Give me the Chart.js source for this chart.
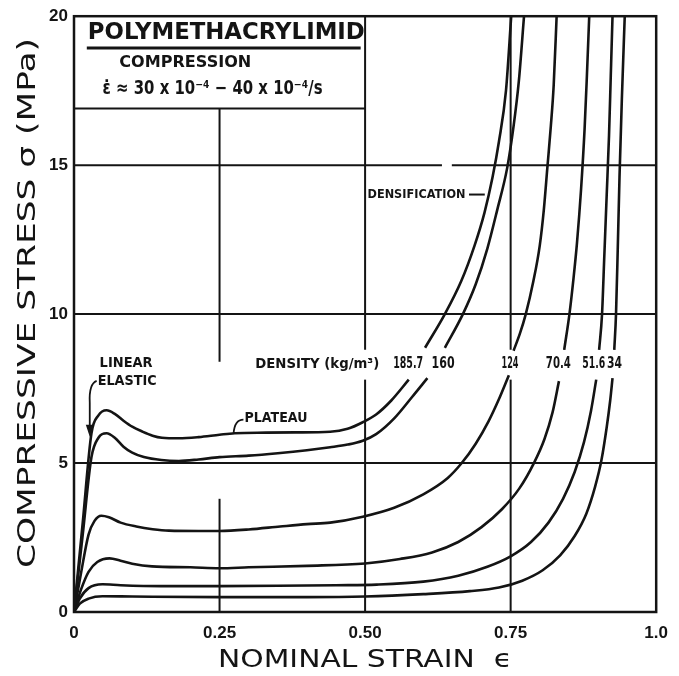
<!DOCTYPE html>
<html>
<head>
<meta charset="utf-8">
<script src="https://cdn.jsdelivr.net/npm/chart.js@4.4.0/dist/chart.umd.min.js"></script>
<style>
  html, body { margin: 0; padding: 0; background: #fff; }
  #wrap { width: 679px; height: 676px; }
</style>
</head>
<body>
<div id="wrap"><canvas id="chart" width="679" height="676"></canvas></div>
<script>
// axis ticks
const xTicks = [0, 0.25, 0.5, 0.75, 1.0];
const xTickLabels = ['0', '0.25', '0.50', '0.75', '1.0'];
const yTicks = [0, 5, 10, 15, 20];
const yTickLabels = ['0', '5', '10', '15', '20'];

// density labels (kg/m3)
const densities = ['185.7', '160', '124', '70.4', '51.6', '34'];

// curves (null = gap where the density label sits)
const strain1857 = [0, 0.015, 0.03, 0.042, 0.056, 0.07, 0.085, 0.1, 0.117, 0.135, 0.151, 0.18, 0.214, 0.25, 0.276, 0.33, 0.38, 0.44, 0.47, 0.496, 0.519, 0.545, 0.575, 0.59, 0.603, 0.637, 0.665, 0.688, 0.705, 0.719, 0.73, 0.742, 0.751];
const stress1857 = [0, 3.0, 6.0, 6.6, 6.77, 6.65, 6.42, 6.22, 6.06, 5.92, 5.85, 5.83, 5.87, 5.95, 6.0, 6.02, 6.03, 6.05, 6.15, 6.37, 6.63, 7.1, 7.8, null, 8.87, 10.0, 11.1, 12.3, 13.4, 14.6, 15.8, 17.5, 20];

const strain160 = [0, 0.015, 0.03, 0.042, 0.056, 0.07, 0.085, 0.1, 0.12, 0.15, 0.18, 0.214, 0.25, 0.3, 0.35, 0.4, 0.44, 0.47, 0.496, 0.519, 0.55, 0.58, 0.607, 0.622, 0.637, 0.668, 0.69, 0.71, 0.727, 0.744, 0.755, 0.764, 0.773];
const stress160 = [0, 2.6, 5.2, 5.85, 6.0, 5.85, 5.55, 5.35, 5.2, 5.1, 5.07, 5.12, 5.2, 5.25, 5.33, 5.43, 5.53, 5.62, 5.75, 5.97, 6.5, 7.2, 7.85, null, 8.87, 10.0, 11.0, 12.2, 13.5, 14.9, 16.3, 17.8, 20];

const strain124 = [0, 0.012, 0.025, 0.035, 0.047, 0.06, 0.08, 0.107, 0.135, 0.163, 0.214, 0.25, 0.3, 0.354, 0.4, 0.44, 0.496, 0.55, 0.6, 0.642, 0.666, 0.69, 0.712, 0.73, 0.747, 0.751, 0.755, 0.766, 0.776, 0.789, 0.8, 0.807, 0.813, 0.819, 0.824, 0.829];
const stress124 = [0, 1.3, 2.6, 3.05, 3.23, 3.18, 3.0, 2.87, 2.78, 2.73, 2.72, 2.72, 2.77, 2.87, 2.95, 3.0, 3.2, 3.5, 3.95, 4.5, 5.0, 5.65, 6.4, 7.15, 7.95, null, 8.77, 9.35, 10.0, 11.1, 12.3, 13.5, 14.9, 16.3, 17.7, 20];

const strain704 = [0, 0.012, 0.025, 0.04, 0.061, 0.08, 0.1, 0.134, 0.2, 0.25, 0.3, 0.4, 0.5, 0.56, 0.615, 0.66, 0.7, 0.735, 0.765, 0.79, 0.808, 0.822, 0.833, 0.838, 0.842, 0.851, 0.858, 0.864, 0.871, 0.877, 0.881, 0.885];
const stress704 = [0, 0.75, 1.35, 1.68, 1.8, 1.72, 1.62, 1.53, 1.5, 1.47, 1.5, 1.55, 1.63, 1.78, 2.0, 2.35, 2.85, 3.45, 4.15, 5.0, 5.8, 6.7, 7.75, null, 8.8, 10.0, 11.2, 12.4, 14.2, 16.2, 18.0, 20];

const strain516 = [0, 0.01, 0.025, 0.049, 0.08, 0.15, 0.25, 0.35, 0.45, 0.52, 0.6, 0.66, 0.71, 0.75, 0.785, 0.815, 0.84, 0.86, 0.876, 0.888, 0.897, 0.9, 0.902, 0.907, 0.911, 0.915, 0.919, 0.922, 0.925];
const stress516 = [0, 0.45, 0.8, 0.93, 0.9, 0.87, 0.87, 0.88, 0.9, 0.92, 1.02, 1.22, 1.52, 1.87, 2.35, 3.0, 3.8, 4.7, 5.7, 6.75, 7.8, null, 8.8, 10.0, 12.0, 14.0, 16.0, 18.0, 20];

const strain34 = [0, 0.01, 0.025, 0.049, 0.1, 0.25, 0.4, 0.5, 0.6, 0.68, 0.73, 0.77, 0.805, 0.835, 0.86, 0.88, 0.895, 0.906, 0.915, 0.921, 0.925, 0.927, 0.928, 0.931, 0.934, 0.937, 0.941, 0.946];
const stress34 = [0, 0.28, 0.45, 0.53, 0.52, 0.5, 0.5, 0.52, 0.6, 0.7, 0.82, 1.05, 1.4, 1.9, 2.55, 3.3, 4.2, 5.1, 6.2, 7.1, 7.85, null, 8.8, 10.0, 12.2, 14.6, 17.2, 20];

const curveStrains = [strain1857, strain160, strain124, strain704, strain516, strain34];
const curveStresses = [stress1857, stress160, stress124, stress704, stress516, stress34];

const INK = '#141414';
const FONT = '"DejaVu Sans", "Liberation Sans", sans-serif';

// reference-pixel helper: maps 679x676 picture coords onto the chart area
function ref(chart, x, y) {
    const a = chart.chartArea;
    return [a.left + (x - 74) / (665 - 74) * (a.right - a.left),
            a.top + (y - 14) / (612 - 14) * (a.bottom - a.top)];
}

// draw text squeezed/stretched to a given width, left edge at x, vertical middle at y
function fitText(ctx, str, x, y, w, size, weight) {
    ctx.save();
    ctx.font = (weight || 'bold') + ' ' + size + 'px ' + FONT;
    ctx.textAlign = 'left';
    ctx.textBaseline = 'middle';
    const m = ctx.measureText(str).width;
    ctx.translate(x, y);
    ctx.scale(w / m, 1);
    ctx.fillStyle = INK;
    ctx.fillText(str, 0, 0);
    ctx.restore();
}

const decor = {
    id: 'decor',
    beforeDatasetsDraw(chart) {
        const ctx = chart.ctx;
        const xs = chart.scales.x, ys = chart.scales.y;
        ctx.save();
        ctx.strokeStyle = INK;
        ctx.lineWidth = 2;
        // vertical grid lines with the gaps of the original
        const vGrid = [
            { x: 0.25, segs: [[0, 3.8], [8.4, 16.9]] },
            { x: 0.5, segs: [[0, 7.8], [8.8, 20]] },
            { x: 0.75, segs: [[0, 7.8], [8.8, 20]] }
        ];
        vGrid.forEach(g => {
            const px = xs.getPixelForValue(g.x);
            g.segs.forEach(s => {
                ctx.beginPath();
                ctx.moveTo(px, ys.getPixelForValue(s[0]));
                ctx.lineTo(px, ys.getPixelForValue(s[1]));
                ctx.stroke();
            });
        });
        const hGrid = [
            { y: 5, segs: [[0, 1]] },
            { y: 10, segs: [[0, 1]] },
            { y: 15, segs: [[0, 0.632], [0.649, 1]] },
            { y: 16.9, segs: [[0, 0.5]] }  // bottom of the title box
        ];
        hGrid.forEach(g => {
            const py = ys.getPixelForValue(g.y);
            g.segs.forEach(s => {
                ctx.beginPath();
                ctx.moveTo(xs.getPixelForValue(s[0]), py);
                ctx.lineTo(xs.getPixelForValue(s[1]), py);
                ctx.stroke();
            });
        });
        ctx.restore();
    },
    afterDatasetsDraw(chart) {
        const ctx = chart.ctx;
        const a = chart.chartArea;
        ctx.save();
        // frame
        ctx.strokeStyle = INK;
        ctx.lineWidth = 2.5;
        ctx.strokeRect(a.left, a.top, a.right - a.left, a.bottom - a.top);

        // title box text
        let p = ref(chart, 88, 31);
        fitText(ctx, 'POLYMETHACRYLIMID', p[0], p[1], 277, 23, 'bold');
        ctx.lineWidth = 3;
        ctx.beginPath();
        p = ref(chart, 87, 46);
        ctx.moveTo(p[0], p[1]);
        p = ref(chart, 365, 46);
        ctx.lineTo(p[0], p[1]);
        ctx.stroke();
        p = ref(chart, 120, 61);
        fitText(ctx, 'COMPRESSION', p[0], p[1], 132, 16, 'bold');
        p = ref(chart, 103, 87);
        fitText(ctx, 'ε\u0307 \u2248 30 x 10\u207B\u2074 \u2212 40 x 10\u207B\u2074/s', p[0], p[1], 220, 19, 'bold');

        // annotations
        p = ref(chart, 100, 362);
        fitText(ctx, 'LINEAR', p[0], p[1], 53, 14);
        p = ref(chart, 98, 381);
        fitText(ctx, 'ELASTIC', p[0], p[1], 59, 14);
        p = ref(chart, 247, 418);
        fitText(ctx, 'PLATEAU', p[0], p[1], 63, 14);
        p = ref(chart, 258, 363);
        fitText(ctx, 'DENSITY (kg/m\u00B3)', p[0], p[1], 124, 14);
        p = ref(chart, 372, 193);
        fitText(ctx, 'DENSIFICATION', p[0], p[1], 98, 13);

        const labelLeft = [398, 437, 508, 553, 590, 615];
        const labelWidth = [30, 23, 17, 25, 23, 15];
        densities.forEach((d, i) => {
            const q = ref(chart, labelLeft[i], 363);
            fitText(ctx, d, q[0], q[1], labelWidth[i], 15);
        });

        // leader lines
        ctx.lineWidth = 1.8;
        ctx.beginPath();
        p = ref(chart, 97, 380); ctx.moveTo(p[0], p[1]);
        let c = ref(chart, 89, 383), e = ref(chart, 90, 402);
        ctx.quadraticCurveTo(c[0], c[1], e[0], e[1]);
        p = ref(chart, 90, 426); ctx.lineTo(p[0], p[1]);
        ctx.stroke();
        ctx.fillStyle = INK;
        ctx.beginPath();
        p = ref(chart, 86, 424); ctx.moveTo(p[0], p[1]);
        p = ref(chart, 94, 424); ctx.lineTo(p[0], p[1]);
        p = ref(chart, 90, 436); ctx.lineTo(p[0], p[1]);
        ctx.closePath();
        ctx.fill();

        ctx.beginPath();
        p = ref(chart, 246, 419); ctx.moveTo(p[0], p[1]);
        c = ref(chart, 237, 419); e = ref(chart, 236, 433);
        ctx.quadraticCurveTo(c[0], c[1], e[0], e[1]);
        ctx.stroke();

        ctx.lineWidth = 2;
        ctx.beginPath();
        p = ref(chart, 475, 193); ctx.moveTo(p[0], p[1]);
        p = ref(chart, 491, 193); ctx.lineTo(p[0], p[1]);
        ctx.stroke();

        // axis titles
        ctx.restore();
        ctx.save();
        ctx.translate(29, (a.top + a.bottom) / 2 - 11);
        ctx.rotate(-Math.PI / 2);
        fitText(ctx, 'COMPRESSIVE STRESS \u03C3 (MPa)', -265, 0, 530, 24, 'normal');
        ctx.restore();
        fitText(ctx, 'NOMINAL STRAIN  \u03F5', 218, 661, 294, 24, 'normal');
    }
};

const datasets = curveStrains.map((xs, i) => ({
    label: densities[i],
    data: xs.map((x, j) => ({ x: x, y: curveStresses[i][j] })),
    borderColor: INK,
    borderWidth: 2.6,
    pointRadius: 0,
    fill: false,
    spanGaps: false,
    cubicInterpolationMode: 'monotone'
}));

const tickFont = { family: '"Liberation Sans", "DejaVu Sans", sans-serif', size: 17, weight: 'bold' };

new Chart(document.getElementById('chart'), {
    type: 'line',
    data: { datasets: datasets },
    options: {
        responsive: false,
        animation: false,
        devicePixelRatio: 1,
        layout: { padding: { top: 14, right: 14, left: 0, bottom: 0 } },
        plugins: { legend: { display: false }, tooltip: { enabled: false } },
        scales: {
            x: {
                type: 'linear', min: 0, max: 1,
                afterBuildTicks: s => { s.ticks = xTicks.map(v => ({ value: v })); },
                afterFit: s => { s.height = 64; },
                grid: { display: false, drawTicks: false },
                border: { display: false },
                ticks: {
                    callback: (v, i) => xTickLabels[i],
                    font: tickFont, color: INK, padding: 11,
                    maxRotation: 0, autoSkip: false
                }
            },
            y: {
                type: 'linear', min: 0, max: 20,
                afterBuildTicks: s => { s.ticks = yTicks.map(v => ({ value: v })); },
                afterFit: s => { s.width = 74; },
                grid: { display: false, drawTicks: false },
                border: { display: false },
                ticks: {
                    callback: (v, i) => yTickLabels[i],
                    font: tickFont, color: INK, padding: 6, autoSkip: false
                }
            }
        }
    },
    plugins: [decor]
});
</script>
</body>
</html>
